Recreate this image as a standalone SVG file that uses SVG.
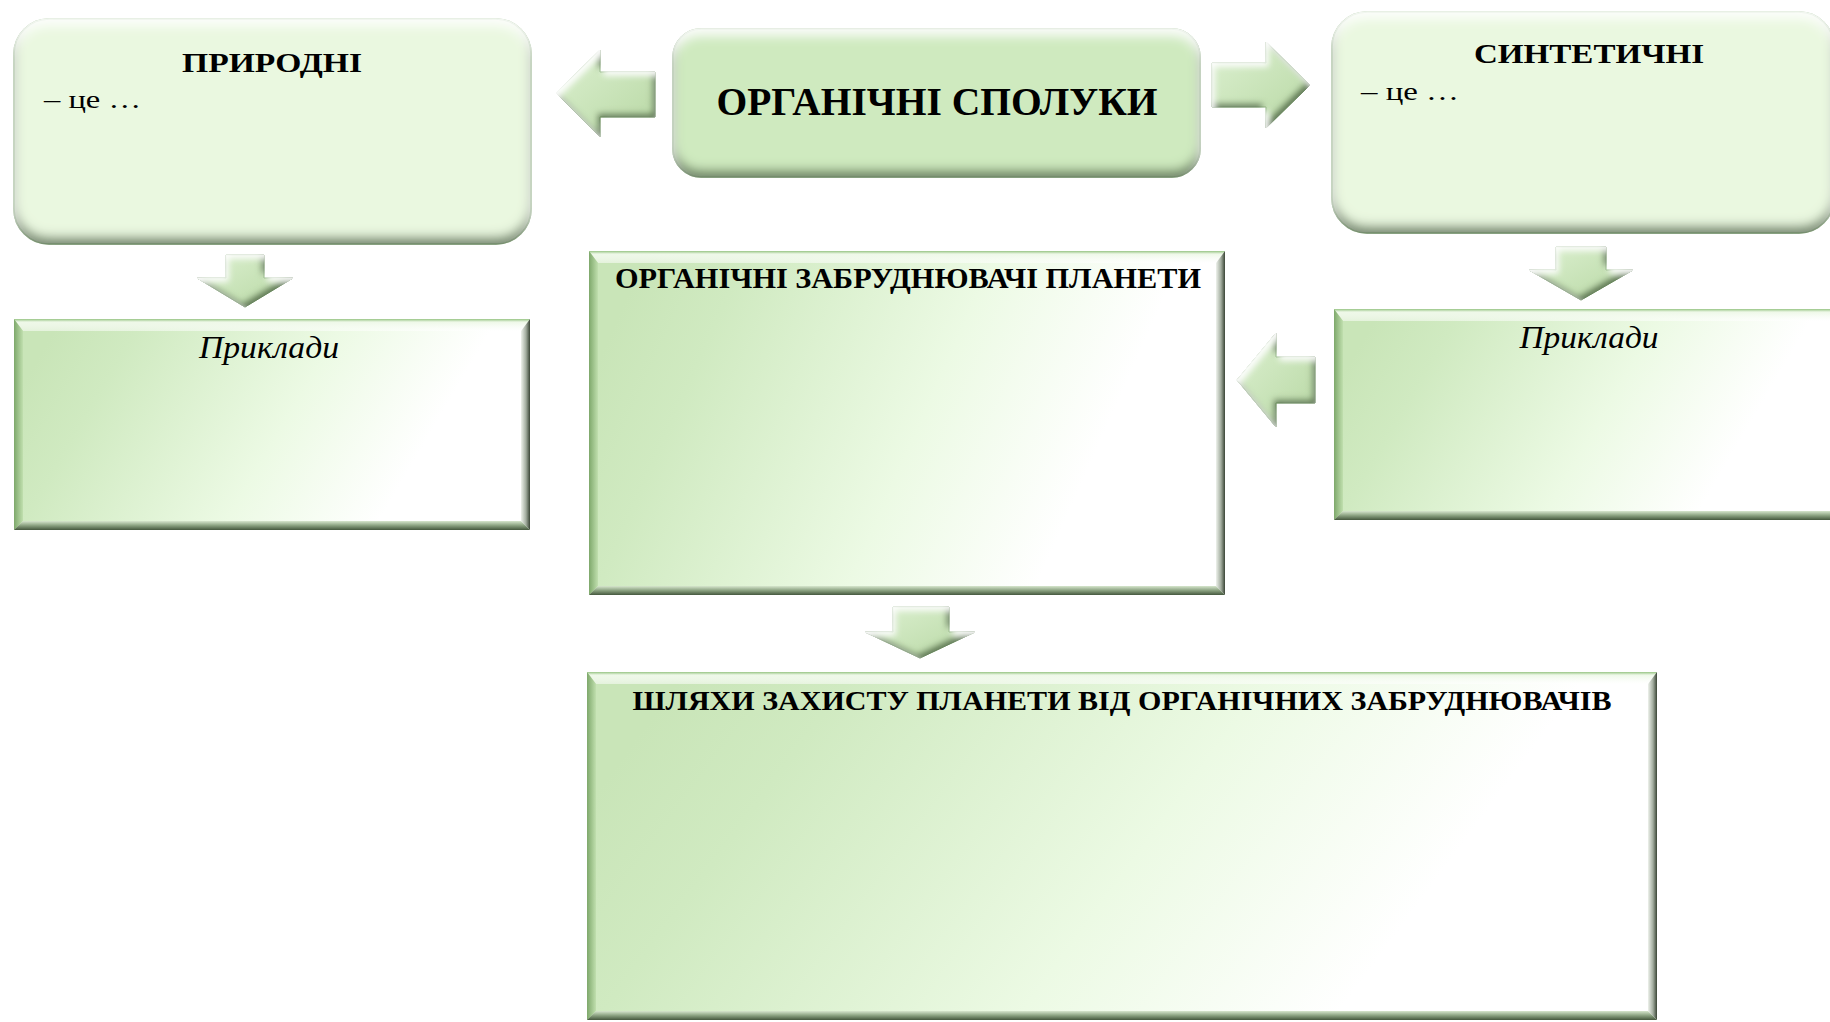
<svg xmlns="http://www.w3.org/2000/svg" width="1830" height="1022" viewBox="0 0 1830 1022">
  <style>
    .title { font-family: "Liberation Serif", "Times New Roman", serif; font-weight: bold; fill: #000; text-anchor: middle; }
    .plain { font-family: "Liberation Serif", "Times New Roman", serif; fill: #000; }
    .ital { font-family: "Liberation Serif", "Times New Roman", serif; font-style: italic; fill: #000; text-anchor: middle; }
    .soft { fill: #eaf8e0; stroke: #9fc98c; stroke-width: 1.5; filter: url(#softBevel); }
    .strong { fill: #cfeabf; stroke: #98c286; stroke-width: 1.5; filter: url(#softBevel); }
    .panel { fill: url(#panelFill); }
    .fTop { fill: url(#facetTop); }
    .fLeft { fill: url(#facetLeft); }
    .fRight { fill: url(#facetRight); }
    .fBottom { fill: url(#facetBottom); }
    .arrow { fill: url(#arrowFill); stroke: #8fb97c; stroke-width: 1; filter: url(#arrowBevel); }
  </style>
  <defs>
    <!-- pale green to white wash used on the square panels -->
    <linearGradient id="panelFill" x1="0" y1="0.38" x2="1" y2="0.62">
      <stop offset="0" stop-color="#c9e5b8"/>
      <stop offset="0.15" stop-color="#d0eac1"/>
      <stop offset="0.52" stop-color="#ecfae4"/>
      <stop offset="0.8" stop-color="#ffffff"/>
      <stop offset="1" stop-color="#ffffff"/>
    </linearGradient>
    <!-- chiselled edge facets -->
    <linearGradient id="facetTop" x1="0" y1="0" x2="0" y2="1">
      <stop offset="0" stop-color="#98c585"/>
      <stop offset="0.25" stop-color="#eef8e8"/>
      <stop offset="1" stop-color="#ffffff" stop-opacity="0.5"/>
    </linearGradient>
    <linearGradient id="facetLeft" x1="0" y1="0" x2="1" y2="0">
      <stop offset="0" stop-color="#7ea86b"/>
      <stop offset="1" stop-color="#c0dfae"/>
    </linearGradient>
    <linearGradient id="facetRight" x1="0" y1="0" x2="1" y2="0">
      <stop offset="0" stop-color="#eef2ec"/>
      <stop offset="0.55" stop-color="#a3ad9f"/>
      <stop offset="1" stop-color="#3a4536"/>
    </linearGradient>
    <linearGradient id="facetBottom" x1="0" y1="0" x2="0" y2="1">
      <stop offset="0" stop-color="#d6e6cd"/>
      <stop offset="0.5" stop-color="#8aa180"/>
      <stop offset="1" stop-color="#45583e"/>
    </linearGradient>
    <linearGradient id="arrowFill" x1="0" y1="0" x2="1" y2="1">
      <stop offset="0" stop-color="#dcf0d0"/>
      <stop offset="1" stop-color="#b8d8a4"/>
    </linearGradient>
    <!-- soft rounded bevel: light upper rim, dark lower rim -->
    <filter id="softBevel" x="-3%" y="-5%" width="106%" height="112%">
      <feGaussianBlur in="SourceAlpha" stdDeviation="6" result="blur"/>
      <feOffset in="blur" dx="0" dy="-7" result="up"/>
      <feComposite in="SourceAlpha" in2="up" operator="out" result="lowRim"/>
      <feFlood flood-color="#44613a" flood-opacity="0.95"/>
      <feComposite in2="lowRim" operator="in" result="shade"/>
      <feOffset in="blur" dx="0" dy="7" result="down"/>
      <feComposite in="SourceAlpha" in2="down" operator="out" result="highRim"/>
      <feFlood flood-color="#ffffff" flood-opacity="0.95"/>
      <feComposite in2="highRim" operator="in" result="shine"/>
      <feMerge>
        <feMergeNode in="SourceGraphic"/>
        <feMergeNode in="shade"/>
        <feMergeNode in="shine"/>
      </feMerge>
    </filter>
    <filter id="arrowBevel" x="-10%" y="-10%" width="120%" height="120%">
      <feGaussianBlur in="SourceAlpha" stdDeviation="3" result="blur"/>
      <feOffset in="blur" dx="-3" dy="-4" result="up"/>
      <feComposite in="SourceAlpha" in2="up" operator="out" result="lowRim"/>
      <feFlood flood-color="#4e6b42" flood-opacity="0.95"/>
      <feComposite in2="lowRim" operator="in" result="shade"/>
      <feOffset in="blur" dx="3" dy="4" result="down"/>
      <feComposite in="SourceAlpha" in2="down" operator="out" result="highRim"/>
      <feFlood flood-color="#ffffff" flood-opacity="0.95"/>
      <feComposite in2="highRim" operator="in" result="shine"/>
      <feMerge>
        <feMergeNode in="SourceGraphic"/>
        <feMergeNode in="shade"/>
        <feMergeNode in="shine"/>
      </feMerge>
    </filter>
  </defs>

  <rect width="1830" height="1022" fill="#ffffff"/>

  <!-- block arrows -->
  <g id="connectors">
    <polygon class="arrow" points="556,93 600,50 600,72 655,72 655,117 600,117 600,137"/>
    <polygon class="arrow" points="1212,63 1266,63 1266,42 1310,85 1266,128 1266,107 1212,107"/>
    <polygon class="arrow" points="226,255 264,255 264,278 293,278 245,307 197,278 226,278"/>
    <polygon class="arrow" points="1556,247 1606,247 1606,270 1633,270 1581,300 1529,270 1556,270"/>
    <polygon class="arrow" points="1237,380 1276,333 1276,357 1315,357 1315,403 1276,403 1276,427"/>
    <polygon class="arrow" points="893,607 949,607 949,632 975,632 920,658 865,632 893,632"/>
  </g>

  <!-- central topic -->
  <g id="node-organic">
    <rect class="strong" x="673" y="29" width="527" height="148" rx="28"/>
    <text class="title" x="937" y="115" font-size="39" textLength="441" lengthAdjust="spacingAndGlyphs">ОРГАНІЧНІ  СПОЛУКИ</text>
  </g>

  <g id="node-natural">
    <rect class="soft" x="14" y="19" width="517" height="225" rx="35"/>
    <text class="title" x="272" y="72" font-size="28" textLength="180" lengthAdjust="spacingAndGlyphs">ПРИРОДНІ</text>
    <text class="plain" x="44" y="108" font-size="26" textLength="97" lengthAdjust="spacingAndGlyphs">– це …</text>
  </g>

  <g id="node-synthetic">
    <rect class="soft" x="1332" y="12" width="502" height="221" rx="35"/>
    <text class="title" x="1589" y="63" font-size="28" textLength="230" lengthAdjust="spacingAndGlyphs">СИНТЕТИЧНІ</text>
    <text class="plain" x="1361" y="100" font-size="26" textLength="98" lengthAdjust="spacingAndGlyphs">– це …</text>
  </g>

  <g id="node-natural-examples">
    <rect class="panel" x="14" y="319" width="516" height="211"/>
    <polygon class="fTop" points="14,319 530,319 521,331 23,331"/>
    <polygon class="fLeft" points="14,319 23,331 23,521 14,530"/>
    <polygon class="fRight" points="521,331 530,319 530,530 521,521"/>
    <polygon class="fBottom" points="23,521 521,521 530,530 14,530"/>
    <text class="ital" x="269" y="358" font-size="31" textLength="140" lengthAdjust="spacingAndGlyphs">Приклади</text>
  </g>

  <g id="node-pollutants">
    <rect class="panel" x="589" y="251" width="636" height="344"/>
    <polygon class="fTop" points="589,251 1225,251 1216,263 598,263"/>
    <polygon class="fLeft" points="589,251 598,263 598,586 589,595"/>
    <polygon class="fRight" points="1216,263 1225,251 1225,595 1216,586"/>
    <polygon class="fBottom" points="598,586 1216,586 1225,595 589,595"/>
    <text class="title" x="908" y="288" font-size="29" textLength="586" lengthAdjust="spacingAndGlyphs">ОРГАНІЧНІ ЗАБРУДНЮВАЧІ ПЛАНЕТИ</text>
  </g>

  <g id="node-synthetic-examples">
    <rect class="panel" x="1334" y="309" width="516" height="211"/>
    <polygon class="fTop" points="1334,309 1850,309 1841,321 1343,321"/>
    <polygon class="fLeft" points="1334,309 1343,321 1343,511 1334,520"/>
    <polygon class="fBottom" points="1343,511 1841,511 1850,520 1334,520"/>
    <text class="ital" x="1589" y="348" font-size="31" textLength="139" lengthAdjust="spacingAndGlyphs">Приклади</text>
  </g>

  <g id="node-protection">
    <rect class="panel" x="587" y="672" width="1070" height="348"/>
    <polygon class="fTop" points="587,672 1657,672 1648,684 596,684"/>
    <polygon class="fLeft" points="587,672 596,684 596,1011 587,1020"/>
    <polygon class="fRight" points="1648,684 1657,672 1657,1020 1648,1011"/>
    <polygon class="fBottom" points="596,1011 1648,1011 1657,1020 587,1020"/>
    <text class="title" x="1122" y="710" font-size="28" textLength="979" lengthAdjust="spacingAndGlyphs">ШЛЯХИ ЗАХИСТУ ПЛАНЕТИ ВІД  ОРГАНІЧНИХ ЗАБРУДНЮВАЧІВ</text>
  </g>
</svg>
